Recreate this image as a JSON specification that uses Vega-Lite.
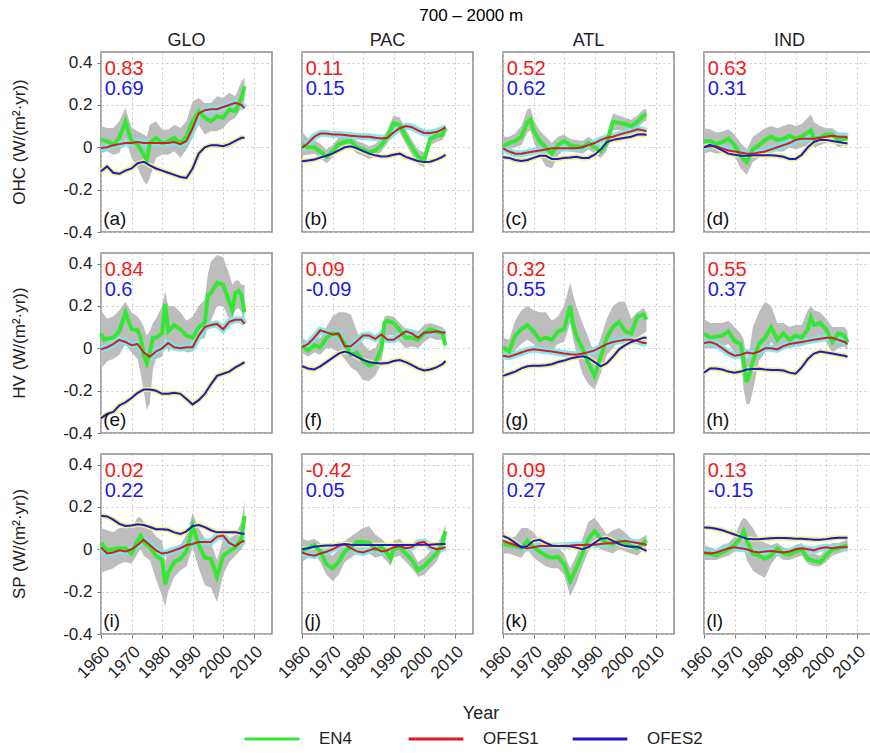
{
  "$schema": "https://vega.github.io/schema/vega-lite/v6.json",
  "padding": {"left": 10, "top": 7, "right": 0, "bottom": 0},
  "bounds": "flush",
  "title": {"text": "700 – 2000 m", "fontSize": 17, "fontWeight": "normal", "anchor": "middle", "offset": 7, "dx": 28, "font": "Liberation Sans"},
  "data": {"values": [
    {"v":"OHC","b":"GLO","t":1960,"e":0.036,"lo":-0.027,"hi":0.099,"r":-0.003,"k":-0.113,"c1":"0.83","c2":"0.69","p":"(a)"},
    {"v":"OHC","b":"GLO","t":1962,"e":0.028,"lo":-0.019,"hi":0.091,"r":0.0,"k":-0.09},
    {"v":"OHC","b":"GLO","t":1964,"e":0.013,"lo":-0.035,"hi":0.091,"r":0.01,"k":-0.12},
    {"v":"OHC","b":"GLO","t":1966,"e":0.044,"lo":-0.027,"hi":0.123,"r":0.015,"k":-0.125},
    {"v":"OHC","b":"GLO","t":1968,"e":0.123,"lo":0.044,"hi":0.186,"r":0.02,"k":-0.11},
    {"v":"OHC","b":"GLO","t":1970,"e":0.028,"lo":-0.05,"hi":0.091,"r":0.02,"k":-0.1},
    {"v":"OHC","b":"GLO","t":1972,"e":0.013,"lo":-0.098,"hi":0.076,"r":0.025,"k":-0.075},
    {"v":"OHC","b":"GLO","t":1974,"e":-0.035,"lo":-0.16,"hi":0.06,"r":0.02,"k":-0.068},
    {"v":"OHC","b":"GLO","t":1975,"e":-0.06,"lo":-0.176,"hi":0.05},
    {"v":"OHC","b":"GLO","t":1976,"e":0.02,"lo":-0.145,"hi":0.107,"r":0.02,"k":-0.085},
    {"v":"OHC","b":"GLO","t":1978,"e":0.044,"lo":-0.05,"hi":0.123,"r":0.02,"k":-0.1},
    {"v":"OHC","b":"GLO","t":1980,"e":0.02,"lo":-0.035,"hi":0.083,"r":0.02,"k":-0.11},
    {"v":"OHC","b":"GLO","t":1982,"e":0.028,"lo":-0.035,"hi":0.083,"r":0.02,"k":-0.12},
    {"v":"OHC","b":"GLO","t":1984,"e":0.044,"lo":-0.019,"hi":0.107,"r":0.025,"k":-0.13},
    {"v":"OHC","b":"GLO","t":1986,"e":0.02,"lo":-0.05,"hi":0.091,"r":0.015,"k":-0.14},
    {"v":"OHC","b":"GLO","t":1988,"e":0.052,"lo":-0.011,"hi":0.123,"r":0.03,"k":-0.145},
    {"v":"OHC","b":"GLO","t":1990,"e":0.123,"lo":0.044,"hi":0.217,"r":0.09,"k":-0.1},
    {"v":"OHC","b":"GLO","t":1992,"e":0.17,"lo":0.107,"hi":0.233,"r":0.16,"k":-0.03},
    {"v":"OHC","b":"GLO","t":1994,"e":0.139,"lo":0.06,"hi":0.209,"r":0.175,"k":0.0},
    {"v":"OHC","b":"GLO","t":1996,"e":0.123,"lo":0.076,"hi":0.209,"r":0.18,"k":0.01},
    {"v":"OHC","b":"GLO","t":1998,"e":0.146,"lo":0.076,"hi":0.241,"r":0.18,"k":0.01},
    {"v":"OHC","b":"GLO","t":2000,"e":0.139,"lo":0.091,"hi":0.233,"r":0.19,"k":0.005},
    {"v":"OHC","b":"GLO","t":2002,"e":0.178,"lo":0.123,"hi":0.257,"r":0.2,"k":0.015},
    {"v":"OHC","b":"GLO","t":2004,"e":0.17,"lo":0.139,"hi":0.241,"r":0.21,"k":0.03},
    {"v":"OHC","b":"GLO","t":2006,"e":0.233,"lo":0.186,"hi":0.312,"r":0.2,"k":0.045},
    {"v":"OHC","b":"GLO","t":2007,"e":0.288,"lo":0.217,"hi":0.328,"r":0.185,"k":0.045},

    {"v":"OHC","b":"PAC","t":1960,"e":0.013,"lo":-0.04,"hi":0.075,"r":-0.003,"k":-0.066,"c1":"0.11","c2":"0.15","p":"(b)"},
    {"v":"OHC","b":"PAC","t":1962,"e":0.0,"lo":-0.035,"hi":0.04,"r":0.02,"k":-0.062},
    {"v":"OHC","b":"PAC","t":1964,"e":0.0,"lo":-0.03,"hi":0.035,"r":0.05,"k":-0.058},
    {"v":"OHC","b":"PAC","t":1966,"e":-0.02,"lo":-0.05,"hi":0.015,"r":0.065,"k":-0.048},
    {"v":"OHC","b":"PAC","t":1968,"e":-0.045,"lo":-0.075,"hi":-0.01,"r":0.065,"k":-0.04},
    {"v":"OHC","b":"PAC","t":1970,"e":-0.02,"lo":-0.05,"hi":0.01,"r":0.06,"k":-0.03},
    {"v":"OHC","b":"PAC","t":1972,"e":0.015,"lo":-0.015,"hi":0.045,"r":0.06,"k":-0.015},
    {"v":"OHC","b":"PAC","t":1974,"e":0.025,"lo":-0.005,"hi":0.055,"r":0.058,"k":0.0},
    {"v":"OHC","b":"PAC","t":1976,"e":0.03,"lo":0.0,"hi":0.06,"r":0.055,"k":0.005},
    {"v":"OHC","b":"PAC","t":1978,"e":0.0,"lo":-0.03,"hi":0.03,"r":0.052,"k":-0.005},
    {"v":"OHC","b":"PAC","t":1980,"e":-0.01,"lo":-0.04,"hi":0.02,"r":0.05,"k":-0.018},
    {"v":"OHC","b":"PAC","t":1982,"e":-0.025,"lo":-0.055,"hi":0.005,"r":0.05,"k":-0.03},
    {"v":"OHC","b":"PAC","t":1984,"e":-0.015,"lo":-0.045,"hi":0.015,"r":0.045,"k":-0.038},
    {"v":"OHC","b":"PAC","t":1986,"e":0.01,"lo":-0.02,"hi":0.04,"r":0.042,"k":-0.043},
    {"v":"OHC","b":"PAC","t":1988,"e":0.05,"lo":0.02,"hi":0.08,"r":0.045,"k":-0.042},
    {"v":"OHC","b":"PAC","t":1990,"e":0.115,"lo":0.08,"hi":0.15,"r":0.07,"k":-0.035},
    {"v":"OHC","b":"PAC","t":1992,"e":0.105,"lo":0.07,"hi":0.14,"r":0.09,"k":-0.03},
    {"v":"OHC","b":"PAC","t":1994,"e":0.05,"lo":0.015,"hi":0.085,"r":0.1,"k":-0.045},
    {"v":"OHC","b":"PAC","t":1996,"e":0.0,"lo":-0.035,"hi":0.035,"r":0.095,"k":-0.055},
    {"v":"OHC","b":"PAC","t":1998,"e":-0.045,"lo":-0.08,"hi":-0.01,"r":0.08,"k":-0.065},
    {"v":"OHC","b":"PAC","t":2000,"e":-0.06,"lo":-0.095,"hi":-0.025,"r":0.068,"k":-0.07},
    {"v":"OHC","b":"PAC","t":2002,"e":0.04,"lo":0.01,"hi":0.07,"r":0.068,"k":-0.068},
    {"v":"OHC","b":"PAC","t":2004,"e":0.055,"lo":0.025,"hi":0.085,"r":0.072,"k":-0.058},
    {"v":"OHC","b":"PAC","t":2006,"e":0.06,"lo":0.035,"hi":0.09,"r":0.085,"k":-0.045},
    {"v":"OHC","b":"PAC","t":2007,"e":0.09,"lo":0.06,"hi":0.11,"r":0.095,"k":-0.035},

    {"v":"OHC","b":"ATL","t":1960,"e":0.005,"lo":-0.02,"hi":0.05,"r":-0.005,"k":-0.047,"c1":"0.52","c2":"0.62","p":"(c)"},
    {"v":"OHC","b":"ATL","t":1962,"e":0.02,"lo":-0.01,"hi":0.05,"r":-0.02,"k":-0.05},
    {"v":"OHC","b":"ATL","t":1964,"e":0.03,"lo":0.0,"hi":0.065,"r":-0.03,"k":-0.06},
    {"v":"OHC","b":"ATL","t":1966,"e":0.05,"lo":0.01,"hi":0.1,"r":-0.03,"k":-0.065},
    {"v":"OHC","b":"ATL","t":1968,"e":0.12,"lo":0.07,"hi":0.18,"r":-0.025,"k":-0.06},
    {"v":"OHC","b":"ATL","t":1969,"e":0.13,"lo":0.08,"hi":0.185},
    {"v":"OHC","b":"ATL","t":1970,"e":0.08,"lo":0.03,"hi":0.13,"r":-0.02,"k":-0.05},
    {"v":"OHC","b":"ATL","t":1972,"e":0.03,"lo":-0.04,"hi":0.08,"r":-0.015,"k":-0.04},
    {"v":"OHC","b":"ATL","t":1974,"e":0.0,"lo":-0.09,"hi":0.05,"r":-0.01,"k":-0.04},
    {"v":"OHC","b":"ATL","t":1976,"e":-0.03,"lo":-0.1,"hi":0.02,"r":-0.005,"k":-0.055},
    {"v":"OHC","b":"ATL","t":1978,"e":0.01,"lo":-0.04,"hi":0.05,"r":-0.005,"k":-0.055},
    {"v":"OHC","b":"ATL","t":1980,"e":0.03,"lo":-0.01,"hi":0.06,"r":-0.005,"k":-0.05},
    {"v":"OHC","b":"ATL","t":1982,"e":0.01,"lo":-0.02,"hi":0.04,"r":-0.005,"k":-0.048},
    {"v":"OHC","b":"ATL","t":1984,"e":0.005,"lo":-0.025,"hi":0.035,"r":-0.005,"k":-0.045},
    {"v":"OHC","b":"ATL","t":1986,"e":0.0,"lo":-0.03,"hi":0.03,"r":0.0,"k":-0.05},
    {"v":"OHC","b":"ATL","t":1988,"e":0.02,"lo":-0.01,"hi":0.05,"r":0.01,"k":-0.05},
    {"v":"OHC","b":"ATL","t":1990,"e":0.0,"lo":-0.03,"hi":0.03,"r":0.02,"k":-0.035},
    {"v":"OHC","b":"ATL","t":1992,"e":-0.02,"lo":-0.05,"hi":0.01,"r":0.035,"k":-0.01},
    {"v":"OHC","b":"ATL","t":1994,"e":0.02,"lo":-0.015,"hi":0.06,"r":0.045,"k":0.025},
    {"v":"OHC","b":"ATL","t":1996,"e":0.12,"lo":0.08,"hi":0.16,"r":0.05,"k":0.035},
    {"v":"OHC","b":"ATL","t":1998,"e":0.115,"lo":0.08,"hi":0.15,"r":0.06,"k":0.04},
    {"v":"OHC","b":"ATL","t":2000,"e":0.11,"lo":0.075,"hi":0.14,"r":0.068,"k":0.045},
    {"v":"OHC","b":"ATL","t":2002,"e":0.1,"lo":0.07,"hi":0.13,"r":0.075,"k":0.05},
    {"v":"OHC","b":"ATL","t":2004,"e":0.12,"lo":0.09,"hi":0.15,"r":0.085,"k":0.06},
    {"v":"OHC","b":"ATL","t":2006,"e":0.15,"lo":0.12,"hi":0.18,"r":0.08,"k":0.062},
    {"v":"OHC","b":"ATL","t":2007,"e":0.155,"lo":0.125,"hi":0.18,"r":0.075,"k":0.058},

    {"v":"OHC","b":"IND","t":1960,"e":0.028,"lo":-0.03,"hi":0.09,"r":0.0,"k":0.0,"c1":"0.63","c2":"0.31","p":"(d)"},
    {"v":"OHC","b":"IND","t":1962,"e":0.03,"lo":-0.02,"hi":0.085,"r":0.005,"k":0.012},
    {"v":"OHC","b":"IND","t":1964,"e":0.015,"lo":-0.03,"hi":0.07,"r":0.005,"k":0.0},
    {"v":"OHC","b":"IND","t":1966,"e":0.025,"lo":-0.025,"hi":0.075,"r":-0.005,"k":-0.015},
    {"v":"OHC","b":"IND","t":1968,"e":0.04,"lo":-0.01,"hi":0.085,"r":-0.015,"k":-0.03},
    {"v":"OHC","b":"IND","t":1970,"e":0.01,"lo":-0.04,"hi":0.06,"r":-0.02,"k":-0.035},
    {"v":"OHC","b":"IND","t":1972,"e":-0.04,"lo":-0.1,"hi":0.02,"r":-0.025,"k":-0.04},
    {"v":"OHC","b":"IND","t":1974,"e":-0.07,"lo":-0.13,"hi":-0.01,"r":-0.03,"k":-0.04},
    {"v":"OHC","b":"IND","t":1976,"e":-0.01,"lo":-0.07,"hi":0.05,"r":-0.03,"k":-0.038},
    {"v":"OHC","b":"IND","t":1978,"e":0.01,"lo":-0.05,"hi":0.07,"r":-0.025,"k":-0.038},
    {"v":"OHC","b":"IND","t":1980,"e":0.035,"lo":-0.02,"hi":0.09,"r":-0.02,"k":-0.038},
    {"v":"OHC","b":"IND","t":1982,"e":0.05,"lo":-0.01,"hi":0.1,"r":-0.01,"k":-0.038},
    {"v":"OHC","b":"IND","t":1984,"e":0.035,"lo":-0.02,"hi":0.09,"r":0.0,"k":-0.04},
    {"v":"OHC","b":"IND","t":1986,"e":0.04,"lo":-0.02,"hi":0.1,"r":0.01,"k":-0.045},
    {"v":"OHC","b":"IND","t":1988,"e":0.055,"lo":0.0,"hi":0.11,"r":0.02,"k":-0.055},
    {"v":"OHC","b":"IND","t":1990,"e":0.04,"lo":-0.01,"hi":0.1,"r":0.035,"k":-0.055},
    {"v":"OHC","b":"IND","t":1992,"e":0.05,"lo":0.0,"hi":0.11,"r":0.04,"k":-0.035},
    {"v":"OHC","b":"IND","t":1994,"e":0.07,"lo":0.01,"hi":0.14,"r":0.04,"k":0.0},
    {"v":"OHC","b":"IND","t":1995,"e":0.08,"lo":0.02,"hi":0.155},
    {"v":"OHC","b":"IND","t":1996,"e":0.04,"lo":0.0,"hi":0.12,"r":0.04,"k":0.025},
    {"v":"OHC","b":"IND","t":1998,"e":0.045,"lo":0.01,"hi":0.1,"r":0.045,"k":0.035},
    {"v":"OHC","b":"IND","t":2000,"e":0.06,"lo":0.02,"hi":0.09,"r":0.05,"k":0.035},
    {"v":"OHC","b":"IND","t":2002,"e":0.06,"lo":0.025,"hi":0.09,"r":0.055,"k":0.03},
    {"v":"OHC","b":"IND","t":2004,"e":0.035,"lo":0.0,"hi":0.07,"r":0.05,"k":0.025},
    {"v":"OHC","b":"IND","t":2006,"e":0.04,"lo":0.01,"hi":0.07,"r":0.05,"k":0.02},
    {"v":"OHC","b":"IND","t":2007,"e":0.045,"lo":0.015,"hi":0.07,"r":0.045,"k":0.018},

    {"v":"HV","b":"GLO","t":1960,"e":0.07,"lo":-0.09,"hi":0.18,"r":-0.005,"k":-0.33,"c1":"0.84","c2":"0.6","p":"(e)"},
    {"v":"HV","b":"GLO","t":1961,"e":0.04,"lo":-0.08,"hi":0.16},
    {"v":"HV","b":"GLO","t":1962,"e":0.045,"lo":-0.06,"hi":0.14,"r":0.005,"k":-0.31},
    {"v":"HV","b":"GLO","t":1964,"e":0.05,"lo":-0.05,"hi":0.15,"r":0.02,"k":-0.3},
    {"v":"HV","b":"GLO","t":1966,"e":0.08,"lo":-0.03,"hi":0.18,"r":0.04,"k":-0.27},
    {"v":"HV","b":"GLO","t":1968,"e":0.17,"lo":0.02,"hi":0.22,"r":0.03,"k":-0.255},
    {"v":"HV","b":"GLO","t":1970,"e":0.09,"lo":-0.02,"hi":0.17,"r":0.015,"k":-0.235},
    {"v":"HV","b":"GLO","t":1972,"e":0.085,"lo":-0.05,"hi":0.15,"r":0.02,"k":-0.21},
    {"v":"HV","b":"GLO","t":1973,"e":0.05,"lo":-0.12,"hi":0.13},
    {"v":"HV","b":"GLO","t":1974,"e":-0.03,"lo":-0.2,"hi":0.1,"r":-0.02,"k":-0.195},
    {"v":"HV","b":"GLO","t":1975,"e":-0.07,"lo":-0.29,"hi":0.06},
    {"v":"HV","b":"GLO","t":1976,"e":-0.02,"lo":-0.26,"hi":0.08,"r":-0.04,"k":-0.195},
    {"v":"HV","b":"GLO","t":1977,"e":0.05,"lo":-0.1,"hi":0.12},
    {"v":"HV","b":"GLO","t":1978,"e":0.05,"lo":-0.05,"hi":0.14,"r":-0.015,"k":-0.2},
    {"v":"HV","b":"GLO","t":1980,"e":0.07,"lo":-0.04,"hi":0.2,"r":0.0,"k":-0.215},
    {"v":"HV","b":"GLO","t":1981,"e":0.21,"lo":0.05,"hi":0.27},
    {"v":"HV","b":"GLO","t":1982,"e":0.08,"lo":-0.02,"hi":0.2,"r":0.025,"k":-0.215},
    {"v":"HV","b":"GLO","t":1984,"e":0.11,"lo":0.02,"hi":0.2,"r":0.005,"k":-0.21},
    {"v":"HV","b":"GLO","t":1986,"e":0.09,"lo":0.0,"hi":0.17,"r":0.0,"k":-0.215},
    {"v":"HV","b":"GLO","t":1988,"e":0.06,"lo":-0.02,"hi":0.13,"r":0.005,"k":-0.24},
    {"v":"HV","b":"GLO","t":1990,"e":0.05,"lo":-0.015,"hi":0.15,"r":0.005,"k":-0.265},
    {"v":"HV","b":"GLO","t":1992,"e":0.1,"lo":0.04,"hi":0.2,"r":0.06,"k":-0.245},
    {"v":"HV","b":"GLO","t":1994,"e":0.12,"lo":0.05,"hi":0.23,"r":0.1,"k":-0.215},
    {"v":"HV","b":"GLO","t":1995,"e":0.25,"lo":0.1,"hi":0.35},
    {"v":"HV","b":"GLO","t":1996,"e":0.26,"lo":0.13,"hi":0.41,"r":0.11,"k":-0.17},
    {"v":"HV","b":"GLO","t":1998,"e":0.31,"lo":0.2,"hi":0.44,"r":0.115,"k":-0.13},
    {"v":"HV","b":"GLO","t":2000,"e":0.3,"lo":0.2,"hi":0.43,"r":0.09,"k":-0.12},
    {"v":"HV","b":"GLO","t":2002,"e":0.22,"lo":0.14,"hi":0.35,"r":0.125,"k":-0.11},
    {"v":"HV","b":"GLO","t":2003,"e":0.18,"lo":0.15,"hi":0.3},
    {"v":"HV","b":"GLO","t":2004,"e":0.26,"lo":0.18,"hi":0.32,"r":0.135,"k":-0.09},
    {"v":"HV","b":"GLO","t":2005,"e":0.27,"lo":0.19,"hi":0.32},
    {"v":"HV","b":"GLO","t":2006,"e":0.25,"lo":0.17,"hi":0.3,"r":0.135,"k":-0.075},
    {"v":"HV","b":"GLO","t":2007,"e":0.17,"lo":0.11,"hi":0.3,"r":0.115,"k":-0.065},

    {"v":"HV","b":"PAC","t":1960,"e":0.01,"lo":-0.02,"hi":0.05,"r":0.005,"k":-0.085,"c1":"0.09","c2":"-0.09","p":"(f)"},
    {"v":"HV","b":"PAC","t":1962,"e":-0.01,"lo":-0.04,"hi":0.03,"r":0.02,"k":-0.095},
    {"v":"HV","b":"PAC","t":1964,"e":0.015,"lo":-0.02,"hi":0.05,"r":0.05,"k":-0.1},
    {"v":"HV","b":"PAC","t":1966,"e":0.005,"lo":-0.03,"hi":0.05,"r":0.085,"k":-0.085},
    {"v":"HV","b":"PAC","t":1968,"e":0.05,"lo":0.0,"hi":0.1,"r":0.075,"k":-0.065},
    {"v":"HV","b":"PAC","t":1970,"e":0.07,"lo":0.0,"hi":0.15,"r":0.065,"k":-0.045},
    {"v":"HV","b":"PAC","t":1972,"e":0.065,"lo":-0.02,"hi":0.17,"r":0.07,"k":-0.025},
    {"v":"HV","b":"PAC","t":1974,"e":0.02,"lo":-0.05,"hi":0.17,"r":0.01,"k":-0.015},
    {"v":"HV","b":"PAC","t":1976,"e":-0.03,"lo":-0.09,"hi":0.16,"r":0.01,"k":-0.025},
    {"v":"HV","b":"PAC","t":1978,"e":-0.02,"lo":-0.11,"hi":0.08,"r":0.035,"k":-0.04},
    {"v":"HV","b":"PAC","t":1980,"e":-0.06,"lo":-0.15,"hi":0.02,"r":0.06,"k":-0.055},
    {"v":"HV","b":"PAC","t":1982,"e":-0.08,"lo":-0.155,"hi":-0.01,"r":0.06,"k":-0.065},
    {"v":"HV","b":"PAC","t":1984,"e":-0.07,"lo":-0.13,"hi":0.0,"r":0.045,"k":-0.07},
    {"v":"HV","b":"PAC","t":1986,"e":0.0,"lo":-0.07,"hi":0.06,"r":0.065,"k":-0.072},
    {"v":"HV","b":"PAC","t":1987,"e":0.12,"lo":0.03,"hi":0.15},
    {"v":"HV","b":"PAC","t":1988,"e":0.13,"lo":0.06,"hi":0.155,"r":0.04,"k":-0.07},
    {"v":"HV","b":"PAC","t":1990,"e":0.12,"lo":0.06,"hi":0.15,"r":0.04,"k":-0.06},
    {"v":"HV","b":"PAC","t":1992,"e":0.085,"lo":0.03,"hi":0.12,"r":0.06,"k":-0.055},
    {"v":"HV","b":"PAC","t":1994,"e":0.05,"lo":0.0,"hi":0.09,"r":0.08,"k":-0.065},
    {"v":"HV","b":"PAC","t":1996,"e":0.05,"lo":0.01,"hi":0.09,"r":0.07,"k":-0.08},
    {"v":"HV","b":"PAC","t":1998,"e":0.04,"lo":0.0,"hi":0.08,"r":0.05,"k":-0.095},
    {"v":"HV","b":"PAC","t":2000,"e":0.07,"lo":0.03,"hi":0.11,"r":0.075,"k":-0.105},
    {"v":"HV","b":"PAC","t":2002,"e":0.09,"lo":0.05,"hi":0.12,"r":0.075,"k":-0.1},
    {"v":"HV","b":"PAC","t":2004,"e":0.08,"lo":0.04,"hi":0.11,"r":0.08,"k":-0.09},
    {"v":"HV","b":"PAC","t":2006,"e":0.07,"lo":0.04,"hi":0.1,"r":0.075,"k":-0.075},
    {"v":"HV","b":"PAC","t":2007,"e":0.015,"lo":-0.01,"hi":0.08,"r":0.075,"k":-0.06},

    {"v":"HV","b":"ATL","t":1960,"e":0.005,"lo":-0.03,"hi":0.05,"r":-0.035,"k":-0.13,"c1":"0.32","c2":"0.55","p":"(g)"},
    {"v":"HV","b":"ATL","t":1962,"e":-0.015,"lo":-0.04,"hi":0.04,"r":-0.04,"k":-0.12},
    {"v":"HV","b":"ATL","t":1964,"e":0.06,"lo":-0.01,"hi":0.13,"r":-0.03,"k":-0.11},
    {"v":"HV","b":"ATL","t":1966,"e":0.09,"lo":0.02,"hi":0.18,"r":-0.02,"k":-0.095},
    {"v":"HV","b":"ATL","t":1968,"e":0.11,"lo":0.04,"hi":0.2,"r":-0.01,"k":-0.085},
    {"v":"HV","b":"ATL","t":1970,"e":0.08,"lo":0.02,"hi":0.18,"r":-0.005,"k":-0.083},
    {"v":"HV","b":"ATL","t":1972,"e":0.04,"lo":-0.01,"hi":0.17,"r":-0.008,"k":-0.082},
    {"v":"HV","b":"ATL","t":1974,"e":0.05,"lo":0.0,"hi":0.17,"r":-0.012,"k":-0.08},
    {"v":"HV","b":"ATL","t":1976,"e":0.04,"lo":-0.01,"hi":0.13,"r":-0.015,"k":-0.075},
    {"v":"HV","b":"ATL","t":1978,"e":0.08,"lo":0.02,"hi":0.15,"r":-0.02,"k":-0.065},
    {"v":"HV","b":"ATL","t":1980,"e":0.09,"lo":0.03,"hi":0.2,"r":-0.025,"k":-0.058},
    {"v":"HV","b":"ATL","t":1982,"e":0.2,"lo":0.12,"hi":0.31,"r":-0.028,"k":-0.048},
    {"v":"HV","b":"ATL","t":1983,"e":0.11,"lo":0.04,"hi":0.25},
    {"v":"HV","b":"ATL","t":1984,"e":0.06,"lo":-0.02,"hi":0.2,"r":-0.03,"k":-0.042},
    {"v":"HV","b":"ATL","t":1986,"e":0.0,"lo":-0.12,"hi":0.12,"r":-0.025,"k":-0.038},
    {"v":"HV","b":"ATL","t":1988,"e":-0.07,"lo":-0.17,"hi":0.05,"r":-0.018,"k":-0.045},
    {"v":"HV","b":"ATL","t":1990,"e":-0.13,"lo":-0.195,"hi":-0.03,"r":-0.01,"k":-0.065},
    {"v":"HV","b":"ATL","t":1992,"e":-0.04,"lo":-0.12,"hi":0.05,"r":0.005,"k":-0.085},
    {"v":"HV","b":"ATL","t":1994,"e":0.05,"lo":-0.03,"hi":0.14,"r":0.02,"k":-0.07},
    {"v":"HV","b":"ATL","t":1996,"e":0.1,"lo":0.0,"hi":0.2,"r":0.03,"k":-0.04},
    {"v":"HV","b":"ATL","t":1998,"e":0.125,"lo":0.04,"hi":0.22,"r":0.035,"k":-0.005},
    {"v":"HV","b":"ATL","t":2000,"e":0.08,"lo":0.01,"hi":0.22,"r":0.04,"k":0.015},
    {"v":"HV","b":"ATL","t":2002,"e":0.07,"lo":0.02,"hi":0.14,"r":0.04,"k":0.03},
    {"v":"HV","b":"ATL","t":2004,"e":0.15,"lo":0.05,"hi":0.17,"r":0.035,"k":0.04},
    {"v":"HV","b":"ATL","t":2006,"e":0.16,"lo":0.07,"hi":0.19,"r":0.025,"k":0.05},
    {"v":"HV","b":"ATL","t":2007,"e":0.135,"lo":0.08,"hi":0.17,"r":0.025,"k":0.05},

    {"v":"HV","b":"IND","t":1960,"e":0.07,"lo":0.0,"hi":0.14,"r":0.025,"k":-0.115,"c1":"0.55","c2":"0.37","p":"(h)"},
    {"v":"HV","b":"IND","t":1962,"e":0.05,"lo":0.0,"hi":0.12,"r":0.03,"k":-0.095},
    {"v":"HV","b":"IND","t":1964,"e":0.055,"lo":0.0,"hi":0.12,"r":0.02,"k":-0.095},
    {"v":"HV","b":"IND","t":1966,"e":0.06,"lo":0.01,"hi":0.12,"r":0.0,"k":-0.1},
    {"v":"HV","b":"IND","t":1968,"e":0.08,"lo":0.02,"hi":0.13,"r":-0.02,"k":-0.11},
    {"v":"HV","b":"IND","t":1970,"e":0.035,"lo":-0.02,"hi":0.1,"r":-0.035,"k":-0.115},
    {"v":"HV","b":"IND","t":1972,"e":0.02,"lo":-0.05,"hi":0.07,"r":-0.03,"k":-0.11},
    {"v":"HV","b":"IND","t":1973,"e":-0.06,"lo":-0.2,"hi":0.04},
    {"v":"HV","b":"IND","t":1974,"e":-0.16,"lo":-0.265,"hi":-0.05,"r":-0.02,"k":-0.1},
    {"v":"HV","b":"IND","t":1975,"e":-0.12,"lo":-0.26,"hi":0.0},
    {"v":"HV","b":"IND","t":1976,"e":-0.06,"lo":-0.2,"hi":0.1,"r":-0.025,"k":-0.098},
    {"v":"HV","b":"IND","t":1978,"e":0.02,"lo":-0.06,"hi":0.17,"r":-0.015,"k":-0.097},
    {"v":"HV","b":"IND","t":1980,"e":0.05,"lo":-0.02,"hi":0.22,"r":0.0,"k":-0.1},
    {"v":"HV","b":"IND","t":1982,"e":0.1,"lo":0.03,"hi":0.2,"r":0.0,"k":-0.102},
    {"v":"HV","b":"IND","t":1984,"e":0.04,"lo":-0.01,"hi":0.12,"r":-0.005,"k":-0.103},
    {"v":"HV","b":"IND","t":1986,"e":0.07,"lo":0.01,"hi":0.12,"r":0.01,"k":-0.105},
    {"v":"HV","b":"IND","t":1988,"e":0.04,"lo":0.0,"hi":0.1,"r":0.02,"k":-0.115},
    {"v":"HV","b":"IND","t":1990,"e":0.06,"lo":0.01,"hi":0.11,"r":0.025,"k":-0.12},
    {"v":"HV","b":"IND","t":1992,"e":0.05,"lo":0.01,"hi":0.11,"r":0.03,"k":-0.09},
    {"v":"HV","b":"IND","t":1994,"e":0.09,"lo":0.03,"hi":0.18,"r":0.035,"k":-0.05},
    {"v":"HV","b":"IND","t":1995,"e":0.145,"lo":0.05,"hi":0.2},
    {"v":"HV","b":"IND","t":1996,"e":0.11,"lo":0.05,"hi":0.18,"r":0.04,"k":-0.025},
    {"v":"HV","b":"IND","t":1998,"e":0.12,"lo":0.06,"hi":0.17,"r":0.045,"k":-0.015},
    {"v":"HV","b":"IND","t":2000,"e":0.09,"lo":0.03,"hi":0.14,"r":0.05,"k":-0.02},
    {"v":"HV","b":"IND","t":2002,"e":0.03,"lo":-0.02,"hi":0.1,"r":0.05,"k":-0.025},
    {"v":"HV","b":"IND","t":2004,"e":0.07,"lo":0.0,"hi":0.1,"r":0.04,"k":-0.03},
    {"v":"HV","b":"IND","t":2006,"e":0.06,"lo":0.01,"hi":0.1,"r":0.03,"k":-0.035},
    {"v":"HV","b":"IND","t":2007,"e":0.03,"lo":-0.01,"hi":0.08,"r":0.02,"k":-0.04},

    {"v":"SP","b":"GLO","t":1960,"e":0.03,"lo":-0.11,"hi":0.1,"r":0.008,"k":0.158,"c1":"0.02","c2":"0.22","p":"(i)"},
    {"v":"SP","b":"GLO","t":1962,"e":-0.005,"lo":-0.1,"hi":0.09,"r":-0.02,"k":0.155},
    {"v":"SP","b":"GLO","t":1964,"e":0.0,"lo":-0.09,"hi":0.08,"r":-0.015,"k":0.14},
    {"v":"SP","b":"GLO","t":1966,"e":0.005,"lo":-0.07,"hi":0.1,"r":-0.005,"k":0.12},
    {"v":"SP","b":"GLO","t":1968,"e":0.005,"lo":-0.06,"hi":0.1,"r":-0.01,"k":0.11},
    {"v":"SP","b":"GLO","t":1970,"e":-0.02,"lo":-0.07,"hi":0.1,"r":0.0,"k":0.112},
    {"v":"SP","b":"GLO","t":1972,"e":0.04,"lo":-0.02,"hi":0.15,"r":0.02,"k":0.118},
    {"v":"SP","b":"GLO","t":1973,"e":0.063,"lo":0.0,"hi":0.15},
    {"v":"SP","b":"GLO","t":1974,"e":0.035,"lo":-0.03,"hi":0.13,"r":0.045,"k":0.115},
    {"v":"SP","b":"GLO","t":1976,"e":0.01,"lo":-0.05,"hi":0.1,"r":0.02,"k":0.105},
    {"v":"SP","b":"GLO","t":1978,"e":-0.03,"lo":-0.14,"hi":0.06,"r":-0.005,"k":0.095},
    {"v":"SP","b":"GLO","t":1980,"e":-0.05,"lo":-0.22,"hi":0.04,"r":-0.02,"k":0.095},
    {"v":"SP","b":"GLO","t":1981,"e":-0.165,"lo":-0.27,"hi":-0.06},
    {"v":"SP","b":"GLO","t":1982,"e":-0.11,"lo":-0.2,"hi":0.0,"r":-0.015,"k":0.092},
    {"v":"SP","b":"GLO","t":1984,"e":-0.06,"lo":-0.13,"hi":0.01,"r":-0.005,"k":0.08},
    {"v":"SP","b":"GLO","t":1986,"e":-0.045,"lo":-0.1,"hi":0.02,"r":0.005,"k":0.072},
    {"v":"SP","b":"GLO","t":1988,"e":-0.01,"lo":-0.08,"hi":0.07,"r":0.02,"k":0.085},
    {"v":"SP","b":"GLO","t":1990,"e":0.11,"lo":0.01,"hi":0.17,"r":0.025,"k":0.11},
    {"v":"SP","b":"GLO","t":1992,"e":0.02,"lo":-0.09,"hi":0.1,"r":0.035,"k":0.115},
    {"v":"SP","b":"GLO","t":1994,"e":-0.04,"lo":-0.17,"hi":0.05,"r":0.035,"k":0.105},
    {"v":"SP","b":"GLO","t":1996,"e":-0.045,"lo":-0.18,"hi":0.03,"r":0.035,"k":0.09},
    {"v":"SP","b":"GLO","t":1998,"e":-0.13,"lo":-0.25,"hi":-0.05,"r":0.06,"k":0.08},
    {"v":"SP","b":"GLO","t":2000,"e":-0.03,"lo":-0.12,"hi":0.05,"r":0.065,"k":0.08},
    {"v":"SP","b":"GLO","t":2002,"e":-0.01,"lo":-0.06,"hi":0.05,"r":0.03,"k":0.08},
    {"v":"SP","b":"GLO","t":2004,"e":0.01,"lo":-0.03,"hi":0.07,"r":0.015,"k":0.08},
    {"v":"SP","b":"GLO","t":2006,"e":0.05,"lo":0.0,"hi":0.13,"r":0.035,"k":0.075},
    {"v":"SP","b":"GLO","t":2007,"e":0.158,"lo":0.03,"hi":0.23,"r":0.04,"k":0.072},

    {"v":"SP","b":"PAC","t":1960,"e":-0.005,"lo":-0.06,"hi":0.05,"r":-0.015,"k":0.0,"c1":"-0.42","c2":"0.05","p":"(j)"},
    {"v":"SP","b":"PAC","t":1962,"e":0.005,"lo":-0.04,"hi":0.04,"r":-0.025,"k":0.005},
    {"v":"SP","b":"PAC","t":1964,"e":0.02,"lo":-0.02,"hi":0.05,"r":-0.03,"k":0.012},
    {"v":"SP","b":"PAC","t":1966,"e":-0.01,"lo":-0.06,"hi":0.03,"r":-0.02,"k":0.015},
    {"v":"SP","b":"PAC","t":1968,"e":-0.07,"lo":-0.12,"hi":-0.01,"r":-0.012,"k":0.018},
    {"v":"SP","b":"PAC","t":1970,"e":-0.09,"lo":-0.15,"hi":-0.03,"r":0.0,"k":0.018},
    {"v":"SP","b":"PAC","t":1972,"e":-0.06,"lo":-0.12,"hi":0.0,"r":0.015,"k":0.022},
    {"v":"SP","b":"PAC","t":1974,"e":-0.01,"lo":-0.06,"hi":0.04,"r":0.022,"k":0.025},
    {"v":"SP","b":"PAC","t":1976,"e":0.01,"lo":-0.04,"hi":0.06,"r":0.005,"k":0.022},
    {"v":"SP","b":"PAC","t":1978,"e":0.035,"lo":-0.02,"hi":0.08,"r":-0.01,"k":0.02},
    {"v":"SP","b":"PAC","t":1980,"e":0.035,"lo":-0.01,"hi":0.1,"r":-0.015,"k":0.02},
    {"v":"SP","b":"PAC","t":1982,"e":0.03,"lo":-0.02,"hi":0.11,"r":-0.005,"k":0.02},
    {"v":"SP","b":"PAC","t":1984,"e":0.0,"lo":-0.04,"hi":0.07,"r":0.005,"k":0.02},
    {"v":"SP","b":"PAC","t":1986,"e":0.01,"lo":-0.03,"hi":0.05,"r":-0.01,"k":0.02},
    {"v":"SP","b":"PAC","t":1988,"e":-0.02,"lo":-0.06,"hi":0.02,"r":-0.005,"k":0.02},
    {"v":"SP","b":"PAC","t":1989,"e":-0.045,"lo":-0.08,"hi":0.0},
    {"v":"SP","b":"PAC","t":1990,"e":0.0,"lo":-0.04,"hi":0.04,"r":0.01,"k":0.02},
    {"v":"SP","b":"PAC","t":1992,"e":0.01,"lo":-0.03,"hi":0.05,"r":0.015,"k":0.02},
    {"v":"SP","b":"PAC","t":1994,"e":-0.02,"lo":-0.06,"hi":0.02,"r":0.005,"k":0.02},
    {"v":"SP","b":"PAC","t":1996,"e":-0.05,"lo":-0.09,"hi":-0.01,"r":0.01,"k":0.02},
    {"v":"SP","b":"PAC","t":1998,"e":-0.1,"lo":-0.13,"hi":-0.06,"r":0.03,"k":0.022},
    {"v":"SP","b":"PAC","t":2000,"e":-0.08,"lo":-0.12,"hi":-0.04,"r":0.035,"k":0.022},
    {"v":"SP","b":"PAC","t":2002,"e":-0.05,"lo":-0.09,"hi":-0.01,"r":0.01,"k":0.022},
    {"v":"SP","b":"PAC","t":2004,"e":-0.02,"lo":-0.06,"hi":0.02,"r":0.0,"k":0.024},
    {"v":"SP","b":"PAC","t":2006,"e":0.03,"lo":0.0,"hi":0.07,"r":0.005,"k":0.025},
    {"v":"SP","b":"PAC","t":2007,"e":0.085,"lo":0.03,"hi":0.12,"r":0.01,"k":0.025},

    {"v":"SP","b":"ATL","t":1960,"e":0.025,"lo":-0.02,"hi":0.06,"r":0.04,"k":0.063,"c1":"0.09","c2":"0.27","p":"(k)"},
    {"v":"SP","b":"ATL","t":1962,"e":0.02,"lo":-0.02,"hi":0.05,"r":0.03,"k":0.05},
    {"v":"SP","b":"ATL","t":1964,"e":0.015,"lo":-0.03,"hi":0.06,"r":0.02,"k":0.03},
    {"v":"SP","b":"ATL","t":1966,"e":0.005,"lo":-0.04,"hi":0.1,"r":0.01,"k":0.01},
    {"v":"SP","b":"ATL","t":1968,"e":0.04,"lo":0.0,"hi":0.1,"r":0.005,"k":0.015},
    {"v":"SP","b":"ATL","t":1970,"e":0.01,"lo":-0.04,"hi":0.08,"r":0.01,"k":0.04},
    {"v":"SP","b":"ATL","t":1972,"e":-0.01,"lo":-0.06,"hi":0.04,"r":0.015,"k":0.045},
    {"v":"SP","b":"ATL","t":1974,"e":-0.03,"lo":-0.08,"hi":0.02,"r":0.015,"k":0.03},
    {"v":"SP","b":"ATL","t":1976,"e":-0.04,"lo":-0.09,"hi":0.0,"r":0.015,"k":0.018},
    {"v":"SP","b":"ATL","t":1978,"e":-0.035,"lo":-0.09,"hi":0.01,"r":0.015,"k":0.016},
    {"v":"SP","b":"ATL","t":1980,"e":-0.07,"lo":-0.12,"hi":-0.02,"r":0.017,"k":0.016},
    {"v":"SP","b":"ATL","t":1982,"e":-0.15,"lo":-0.22,"hi":-0.09,"r":0.018,"k":0.014},
    {"v":"SP","b":"ATL","t":1984,"e":-0.09,"lo":-0.16,"hi":-0.03,"r":0.02,"k":0.008},
    {"v":"SP","b":"ATL","t":1986,"e":-0.02,"lo":-0.08,"hi":0.05,"r":0.02,"k":0.0},
    {"v":"SP","b":"ATL","t":1988,"e":0.05,"lo":-0.01,"hi":0.13,"r":0.022,"k":0.01},
    {"v":"SP","b":"ATL","t":1990,"e":0.085,"lo":0.03,"hi":0.15,"r":0.022,"k":0.03},
    {"v":"SP","b":"ATL","t":1992,"e":0.05,"lo":0.0,"hi":0.11,"r":0.025,"k":0.05},
    {"v":"SP","b":"ATL","t":1994,"e":0.03,"lo":-0.01,"hi":0.07,"r":0.028,"k":0.053},
    {"v":"SP","b":"ATL","t":1996,"e":0.025,"lo":-0.02,"hi":0.09,"r":0.03,"k":0.04},
    {"v":"SP","b":"ATL","t":1998,"e":0.04,"lo":0.0,"hi":0.1,"r":0.035,"k":0.025},
    {"v":"SP","b":"ATL","t":2000,"e":0.03,"lo":-0.01,"hi":0.08,"r":0.04,"k":0.015},
    {"v":"SP","b":"ATL","t":2002,"e":0.015,"lo":-0.02,"hi":0.05,"r":0.035,"k":0.012},
    {"v":"SP","b":"ATL","t":2004,"e":0.005,"lo":-0.03,"hi":0.04,"r":0.03,"k":0.012},
    {"v":"SP","b":"ATL","t":2006,"e":0.03,"lo":0.0,"hi":0.06,"r":0.025,"k":0.0},
    {"v":"SP","b":"ATL","t":2007,"e":0.045,"lo":0.02,"hi":0.07,"r":0.02,"k":-0.008},

    {"v":"SP","b":"IND","t":1960,"e":-0.02,"lo":-0.05,"hi":0.02,"r":-0.015,"k":0.103,"c1":"0.13","c2":"-0.15","p":"(l)"},
    {"v":"SP","b":"IND","t":1962,"e":-0.02,"lo":-0.05,"hi":0.01,"r":-0.02,"k":0.102},
    {"v":"SP","b":"IND","t":1964,"e":-0.03,"lo":-0.05,"hi":0.0,"r":-0.015,"k":0.097},
    {"v":"SP","b":"IND","t":1966,"e":-0.015,"lo":-0.04,"hi":0.02,"r":-0.005,"k":0.09},
    {"v":"SP","b":"IND","t":1968,"e":0.0,"lo":-0.03,"hi":0.03,"r":0.005,"k":0.08},
    {"v":"SP","b":"IND","t":1970,"e":0.02,"lo":-0.01,"hi":0.06,"r":0.01,"k":0.07},
    {"v":"SP","b":"IND","t":1972,"e":0.055,"lo":-0.01,"hi":0.13,"r":0.005,"k":0.06},
    {"v":"SP","b":"IND","t":1973,"e":0.085,"lo":0.0,"hi":0.15},
    {"v":"SP","b":"IND","t":1974,"e":0.04,"lo":-0.05,"hi":0.14,"r":0.0,"k":0.05},
    {"v":"SP","b":"IND","t":1976,"e":-0.02,"lo":-0.1,"hi":0.1,"r":-0.01,"k":0.047},
    {"v":"SP","b":"IND","t":1978,"e":-0.03,"lo":-0.12,"hi":0.05,"r":-0.015,"k":0.048},
    {"v":"SP","b":"IND","t":1980,"e":-0.045,"lo":-0.134,"hi":0.03,"r":-0.01,"k":0.05},
    {"v":"SP","b":"IND","t":1982,"e":-0.03,"lo":-0.07,"hi":0.02,"r":-0.008,"k":0.052},
    {"v":"SP","b":"IND","t":1984,"e":0.005,"lo":-0.03,"hi":0.03,"r":-0.012,"k":0.053},
    {"v":"SP","b":"IND","t":1986,"e":-0.02,"lo":-0.05,"hi":0.01,"r":-0.015,"k":0.053},
    {"v":"SP","b":"IND","t":1988,"e":-0.025,"lo":-0.05,"hi":0.0,"r":-0.01,"k":0.052},
    {"v":"SP","b":"IND","t":1990,"e":-0.01,"lo":-0.04,"hi":0.02,"r":0.0,"k":0.05},
    {"v":"SP","b":"IND","t":1992,"e":0.0,"lo":-0.03,"hi":0.03,"r":0.005,"k":0.05},
    {"v":"SP","b":"IND","t":1994,"e":-0.045,"lo":-0.07,"hi":-0.02,"r":0.0,"k":0.048},
    {"v":"SP","b":"IND","t":1996,"e":-0.055,"lo":-0.08,"hi":-0.02,"r":-0.005,"k":0.045},
    {"v":"SP","b":"IND","t":1998,"e":-0.06,"lo":-0.08,"hi":-0.03,"r":0.005,"k":0.045},
    {"v":"SP","b":"IND","t":2000,"e":-0.03,"lo":-0.06,"hi":0.0,"r":0.01,"k":0.048},
    {"v":"SP","b":"IND","t":2002,"e":0.0,"lo":-0.03,"hi":0.03,"r":0.005,"k":0.052},
    {"v":"SP","b":"IND","t":2004,"e":0.005,"lo":-0.02,"hi":0.03,"r":0.01,"k":0.055},
    {"v":"SP","b":"IND","t":2006,"e":0.015,"lo":-0.01,"hi":0.04,"r":0.01,"k":0.055},
    {"v":"SP","b":"IND","t":2007,"e":0.02,"lo":-0.01,"hi":0.05,"r":0.01,"k":0.055}
  ]},
  "facet": {
    "row": {"field": "v", "type": "nominal", "sort": ["OHC", "HV", "SP"],
      "header": {"title": null, "labelAngle": -90, "labelOrient": "left", "labelFontSize": 17, "labelPadding": 26,
        "labelExpr": "datum.value + ' (W/(m²·yr))'"}},
    "column": {"field": "b", "type": "nominal", "sort": ["GLO", "PAC", "ATL", "IND"], "title": "Year",
      "header": {"labelOrient": "top", "labelFontSize": 18, "labelPadding": 2,
        "titleOrient": "bottom", "titleFontSize": 18, "titleFontWeight": "normal", "titlePadding": 13}}
  },
  "spacing": {"row": 21, "column": 30},
  "spec": {
    "width": 171,
    "height": 180,
    "encoding": {
      "x": {"field": "t", "type": "quantitative", "title": null,
        "scale": {"domain": [1960, 2016], "nice": false, "zero": false},
        "axis": {"values": [1960, 1970, 1980, 1990, 2000, 2010], "format": "d", "labelAngle": -45, "labelOverlap": false}}
    },
    "layer": [
      {
        "transform": [{"filter": "isValid(datum.lo)"}],
        "mark": {"type": "area", "color": "#bdbdbd", "opacity": 1},
        "encoding": {
          "y": {"field": "lo", "type": "quantitative", "title": null,
            "scale": {"domain": [-0.4, 0.45], "nice": false, "zero": false},
            "axis": {"values": [-0.4, -0.2, 0, 0.2, 0.4], "labelOverlap": false,
              "labelExpr": "datum.value == 0 ? '0' : replace(format(datum.value, '.1f'), '\u2212', '-')"}},
          "y2": {"field": "hi"}
        }
      },
      {
        "transform": [{"filter": "isValid(datum.r)"}],
        "mark": {"type": "line", "color": "#6fe9ee", "strokeWidth": 7, "opacity": 0.9},
        "encoding": {"y": {"field": "r", "type": "quantitative", "title": null}}
      },
      {
        "transform": [{"filter": "isValid(datum.k)"}],
        "mark": {"type": "line", "color": "#f3ef78", "strokeWidth": 5},
        "encoding": {"y": {"field": "k", "type": "quantitative", "title": null}}
      },
      {
        "transform": [{"filter": "isValid(datum.e)"}],
        "mark": {"type": "line", "strokeWidth": 4},
        "encoding": {
          "y": {"field": "e", "type": "quantitative", "title": null},
          "color": {"datum": "EN4", "type": "nominal",
            "scale": {"domain": ["EN4", "OFES1", "OFES2"], "range": ["#33e833", "#e3171c", "#1a1ad2"]},
            "legend": {"orient": "none", "legendX": 142, "legendY": 658, "direction": "horizontal", "title": null,
              "symbolType": "stroke", "symbolSize": 3000, "symbolStrokeWidth": 3, "labelFontSize": 17,
              "gridAlign": "all", "columnPadding": 27, "labelOffset": 18}}
        }
      },
      {
        "transform": [{"filter": "isValid(datum.r)"}],
        "mark": {"type": "line", "strokeWidth": 2},
        "encoding": {
          "y": {"field": "r", "type": "quantitative", "title": null},
          "color": {"datum": "OFES1", "type": "nominal"}
        }
      },
      {
        "transform": [{"filter": "isValid(datum.k)"}],
        "mark": {"type": "line", "strokeWidth": 2},
        "encoding": {
          "y": {"field": "k", "type": "quantitative", "title": null},
          "color": {"datum": "OFES2", "type": "nominal"}
        }
      },
      {
        "transform": [{"filter": "isValid(datum.c1)"}],
        "mark": {"type": "text", "align": "left", "baseline": "middle", "fontSize": 20, "fill": "#ee1c1c"},
        "encoding": {"x": {"datum": 1961.2, "type": "quantitative"}, "y": {"datum": 0.37, "type": "quantitative"}, "text": {"field": "c1", "type": "nominal"}}
      },
      {
        "transform": [{"filter": "isValid(datum.c2)"}],
        "mark": {"type": "text", "align": "left", "baseline": "middle", "fontSize": 20, "fill": "#1c1ce0"},
        "encoding": {"x": {"datum": 1961.2, "type": "quantitative"}, "y": {"datum": 0.275, "type": "quantitative"}, "text": {"field": "c2", "type": "nominal"}}
      },
      {
        "transform": [{"filter": "isValid(datum.p)"}],
        "mark": {"type": "text", "align": "left", "baseline": "middle", "fontSize": 19, "fill": "#111111"},
        "encoding": {"x": {"datum": 1960.7, "type": "quantitative"}, "y": {"datum": -0.34, "type": "quantitative"}, "text": {"field": "p", "type": "nominal"}}
      }
    ]
  },
  "config": {
    "font": "Liberation Sans",
    "view": {"stroke": "#8c8c8c", "strokeWidth": 1.5},
    "axis": {"labelFontSize": 17, "labelColor": "#222222", "tickColor": "#777777", "tickSize": 4, "labelPadding": 5,
      "domain": false, "gridColor": "#c8c8c8", "gridDash": [2, 3], "titleFontSize": 18, "titleFontWeight": "normal", "titleColor": "#222222"},
    "header": {"labelColor": "#222222", "titleColor": "#222222"},
    "legend": {"labelColor": "#222222"}
  }
}
